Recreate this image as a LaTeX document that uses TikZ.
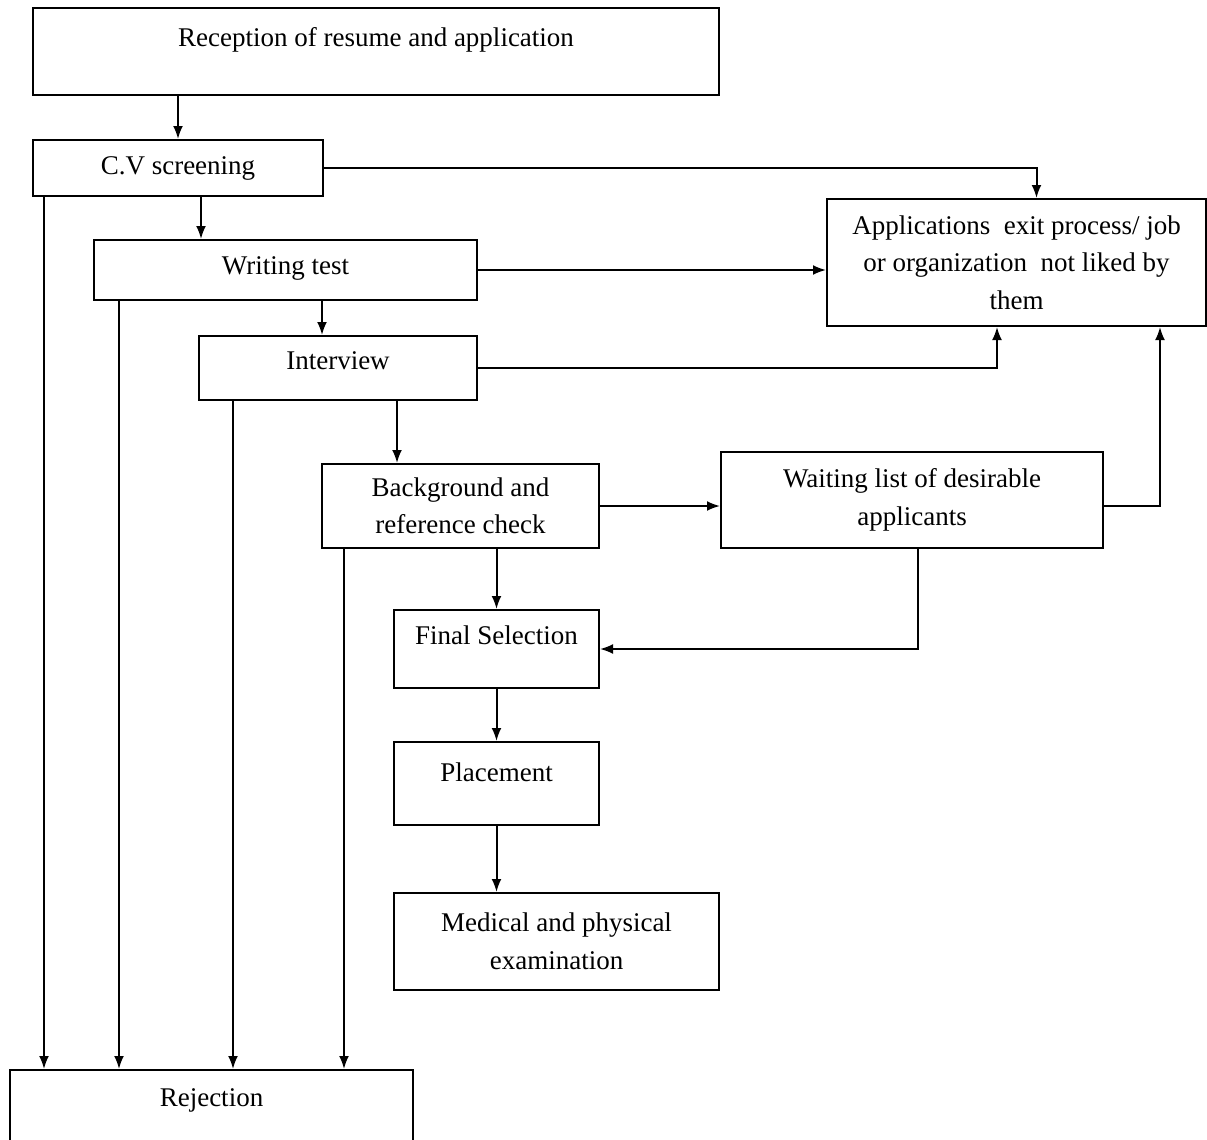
\documentclass[tikz,border=0pt]{standalone}
\usepackage{fontspec}
\setmainfont{Liberation Serif}
\usetikzlibrary{arrows.meta}

\begin{document}
\begin{tikzpicture}[x=1pt,y=-1pt,>={Latex[length=13pt,width=10pt]},
    box/.style={draw,line width=2pt,inner sep=0pt,align=center,
      font=\fontsize{27}{37.5}\selectfont},
    single/.style={box,text height=19pt,text depth=#1},
    single/.default=6pt,
    arr/.style={->,line width=2pt}]
  \useasboundingbox (0,0) rectangle (1207,1140);
  % boxes
  \node[single=28pt,minimum width=686,minimum height=87] (rec) at (376,51.5) {Reception of resume and application};
  \node[single=7pt,minimum width=290,minimum height=56] (cv) at (178,168) {C.V screening};
  \node[single=11pt,minimum width=383,minimum height=60] (wt) at (285.5,270) {Writing test};
  \node[box,minimum width=379,minimum height=127] (exit) at (1016.5,262.5) {Applications \ exit process/ job\\or organization \ not liked by\\them};
  \node[single=17pt,minimum width=278,minimum height=64] (int) at (338,368) {Interview};
  \node[box,minimum width=277,minimum height=84] (bg) at (460.5,506) {Background and\\reference check};
  \node[box,minimum width=382,minimum height=96] (wl) at (912,500) {Waiting list of desirable\\applicants};
  \node[single=28pt,minimum width=205,minimum height=78] (fs) at (496.5,649) {Final Selection};
  \node[single=24pt,minimum width=205,minimum height=83] (pl) at (496.5,783.5) {Placement};
  \node[box,minimum width=325,minimum height=97] (med) at (556.5,941.5) {Medical and physical\\examination};
  \node[single=22pt,minimum width=403,minimum height=76] (rej) at (211.5,1108) {Rejection};
  % main flow
  \draw[arr] (rec.south -| cv.north) -- (cv.north);
  \draw[arr] ([xshift=23pt]cv.south) -- ([xshift=23pt]cv.south |- wt.north);
  \draw[arr] ([xshift=36.5pt]wt.south) -- ([xshift=36.5pt]wt.south |- int.north);
  \draw[arr] ([xshift=59pt]int.south) -- ([xshift=59pt]int.south |- bg.north);
  \draw[arr] (bg.south -| fs.north) -- (fs.north);
  \draw[arr] (fs.south) -- (pl.north);
  \draw[arr] (pl.south) -- (med.north -| pl.south);
  % exits
  \draw[arr] (cv.east) -| ([xshift=20pt]exit.north);
  \draw[arr] (wt.east) -- (wt.east -| exit.west);
  \draw[arr] (int.east) -| ([xshift=-19.5pt]exit.south);
  \draw[arr] ([yshift=-6pt]wl.east) -| ([xshift=143.5pt]exit.south);
  \draw[arr] (bg.east) -- (bg.east -| wl.west);
  \draw[arr] ([xshift=6pt]wl.south) |- (fs.east);
  % rejections
  \draw[arr] ([xshift=12pt]cv.south west) -- ([xshift=12pt]cv.south west |- rej.north);
  \draw[arr] ([xshift=26pt]wt.south west) -- ([xshift=26pt]wt.south west |- rej.north);
  \draw[arr] ([xshift=35pt]int.south west) -- ([xshift=35pt]int.south west |- rej.north);
  \draw[arr] ([xshift=23pt]bg.south west) -- ([xshift=23pt]bg.south west |- rej.north);
\end{tikzpicture}
\end{document}
